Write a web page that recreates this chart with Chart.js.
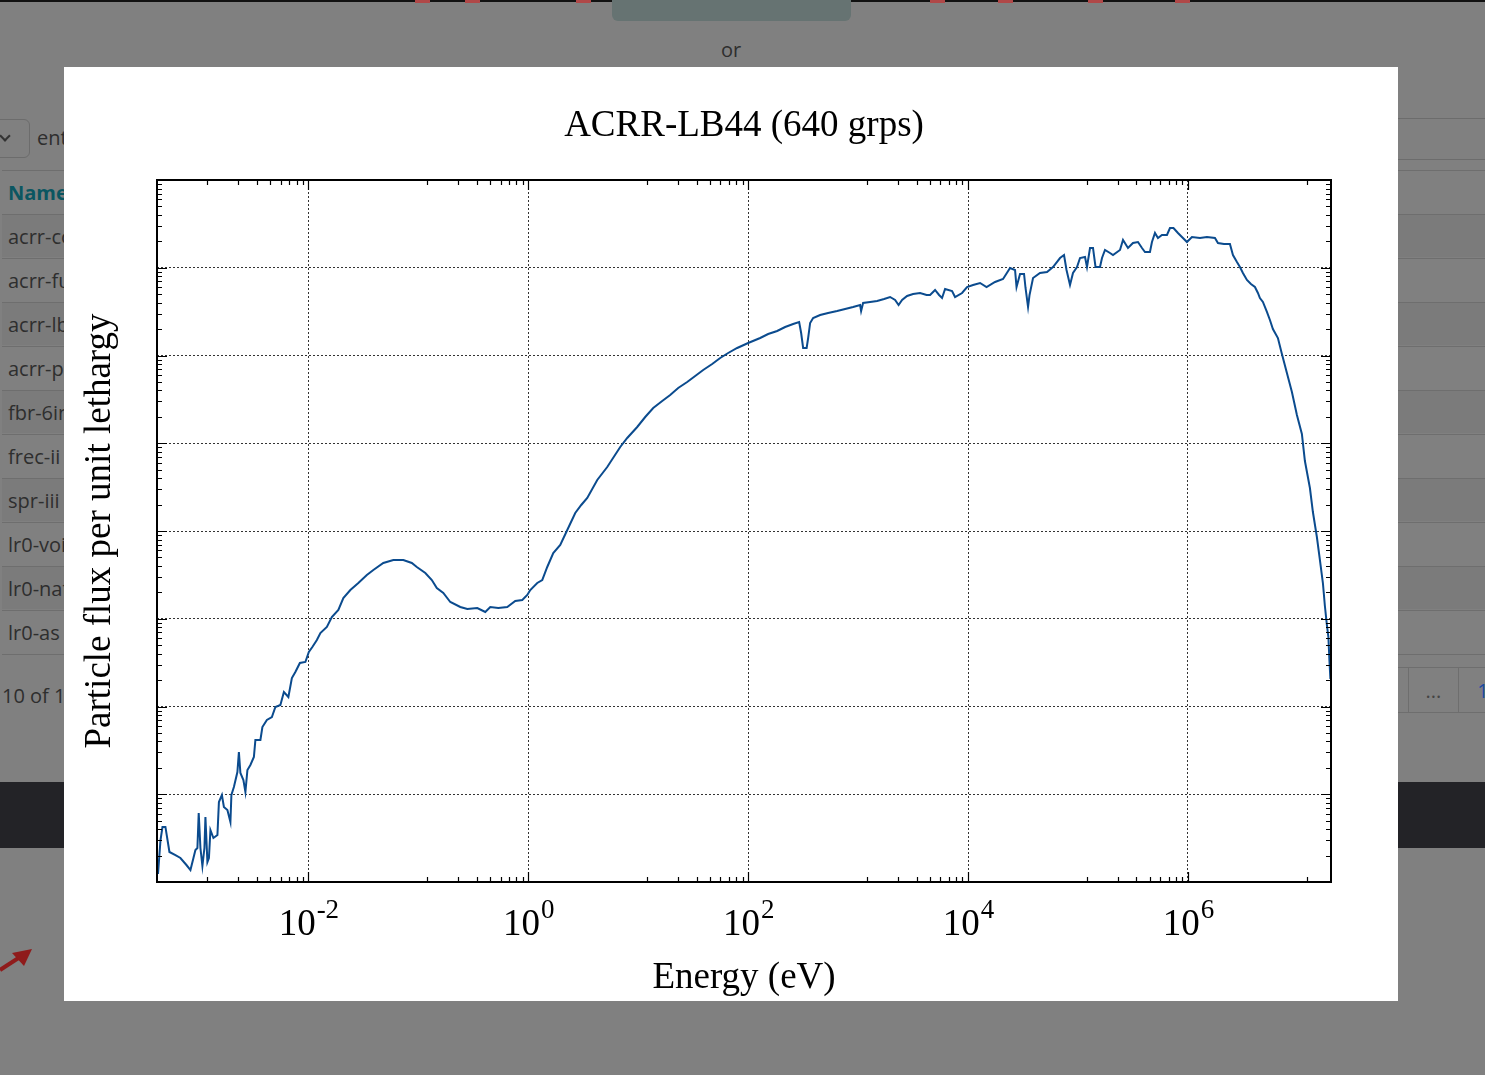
<!DOCTYPE html>
<html>
<head>
<meta charset="utf-8">
<title>ACRR-LB44 (640 grps)</title>
<script src="https://cdn.jsdelivr.net/npm/chart.js@4.4.1/dist/chart.umd.min.js"></script>
<style>
  html, body { margin: 0; padding: 0; }
  body { width: 1485px; height: 1075px; position: relative; overflow: hidden; background: #808080; font-family: "Open Sans", sans-serif; color: #2e2e2e; }
  .abs { position: absolute; }
  .topbar { left: 0; top: 0; width: 1485px; height: 2px; background: #111; }
  .red { top: 0; height: 3px; width: 15px; background: #b04848; }
  .btn { left: 612px; top: -6px; width: 239px; height: 27px; background: #667372; border-radius: 6px; }
  .or { left: 721px; top: 36px; font-size: 20px; }
  .sel { left: -14px; top: 119px; width: 42px; height: 37px; border: 1px solid #6c6c6c; border-radius: 6px; }
  .chev { left: 1px; top: 132px; width: 6px; height: 6px; border-right: 2px solid #333; border-bottom: 2px solid #333; transform: rotate(45deg); }
  .ent { left: 37px; top: 124px; font-size: 20px; }
  .search { left: 1300px; top: 118px; width: 200px; height: 40px; border: 1px solid #6c6c6c; border-radius: 4px; }
  .row { left: 2px; width: 1483px; height: 43px; border-top: 1px solid #6e6e6e; font-size: 20px; line-height: 43px; padding-left: 6px; box-sizing: border-box; }
  .row.dark { background: rgba(0,0,0,0.04); }
  .head { color: #0b5661; font-weight: bold; }
  .count { left: 2px; top: 682px; font-size: 20px; }
  .pg { top: 667px; height: 46px; border: 1px solid #6e6e6e; font-size: 20px; line-height: 46px; text-align: center; box-sizing: border-box; }
  .band { left: 0; top: 782px; width: 1485px; height: 66px; background: #232327; }
  .modal { left: 64px; top: 67px; width: 1334px; height: 934px; background: #fff; }
</style>
</head>
<body>
<div class="abs topbar"></div>
<div class="abs red" style="left:415px"></div>
<div class="abs red" style="left:465px"></div>
<div class="abs red" style="left:576px"></div>
<div class="abs red" style="left:768px"></div>
<div class="abs red" style="left:930px"></div>
<div class="abs red" style="left:998px"></div>
<div class="abs red" style="left:1088px"></div>
<div class="abs red" style="left:1175px"></div>
<div class="abs btn"></div>
<div class="abs or">or</div>
<div class="abs sel"></div>
<div class="abs chev"></div>
<div class="abs ent">entries</div>
<div class="abs search"></div>
<div class="abs row head" style="top:170px">Name</div>
<div class="abs row dark" style="top:214px">acrr-core</div>
<div class="abs row" style="top:258px">acrr-fuel</div>
<div class="abs row dark" style="top:302px">acrr-lb44</div>
<div class="abs row" style="top:346px">acrr-pool</div>
<div class="abs row dark" style="top:390px">fbr-6in</div>
<div class="abs row" style="top:434px">frec-ii</div>
<div class="abs row dark" style="top:478px">spr-iii</div>
<div class="abs row" style="top:522px">lr0-void</div>
<div class="abs row dark" style="top:566px">lr0-nat</div>
<div class="abs row" style="top:610px">lr0-as</div>
<div class="abs row" style="top:654px;height:1px"></div>
<div class="abs count">10 of 18</div>
<div class="abs pg" style="left:1360px;width:49px"></div>
<div class="abs pg" style="left:1408px;width:51px;color:#444">...</div>
<div class="abs pg" style="left:1458px;width:50px;color:#1a4aa0">1</div>
<div class="abs band"></div>
<svg class="abs" style="left:0;top:944px" width="36" height="32">
  <line x1="0" y1="26" x2="20" y2="13" stroke="#8f1b1b" stroke-width="4"/>
  <polygon points="32,5 12,9 24,22" fill="#8f1b1b"/>
</svg>
<div class="abs modal">
  <canvas id="chart" width="1334" height="934"></canvas>
</div>
<script>
// group energies (eV) and flux per unit lethargy
var energies = [
  4.29e-4, 4.52e-4, 4.71e-4, 5.01e-4, 5.45e-4, 6.18e-4, 6.86e-4, 7.78e-4, 8.46e-4, 9.01e-4,
  9.39e-4, 9.79e-4, 1.006e-3, 1.043e-3, 1.087e-3, 1.134e-3, 1.158e-3, 1.207e-3, 1.246e-3, 1.286e-3,
  1.369e-3, 1.489e-3, 1.536e-3, 1.635e-3, 1.705e-3, 1.835e-3, 1.954e-3, 1.995e-3, 2.102e-3, 2.262e-3,
  2.334e-3, 2.409e-3, 2.565e-3, 2.675e-3, 2.790e-3, 2.970e-3, 3.195e-3, 3.297e-3, 3.662e-3, 3.818e-3,
  4.194e-3, 4.658e-3, 5.012e-3, 5.566e-3, 5.989e-3, 6.579e-3, 7.079e-3, 7.616e-3, 8.369e-3, 9.39e-3,
  1.010e-2, 1.087e-2, 1.195e-2, 1.286e-2, 1.473e-2, 1.635e-2, 1.874e-2, 2.080e-2, 2.409e-2, 2.848e-2,
  3.402e-2, 3.899e-2, 4.805e-2, 5.925e-2, 7.305e-2, 8.728e-2, 9.69e-2, 0.1158, 0.1327, 0.1473,
  0.1688, 0.1954, 0.2409, 0.2790, 0.3439, 0.4065, 0.4514, 0.5337, 0.6442, 0.7616,
  0.8820, 0.9793, 1.043, 1.207, 1.340, 1.488, 1.688, 1.954, 2.263, 2.675,
  3.033, 3.439, 4.240, 5.226, 6.862, 7.943, 9.793, 11.58, 13.69, 16.53,
  19.54, 23.10, 27.89, 32.98, 38.99, 47.07, 55.66, 65.79, 79.43, 100,
  128.6, 152.0, 183.5, 216.9, 256.6, 290.9, 303.3, 316.2, 340.3, 351.3,
  366.1, 389.8, 451.3, 533.7, 644.2, 761.6, 900.6, 1043, 1065, 1110,
  1286, 1488, 1724, 1954, 2170, 2334, 2512, 2789, 3162, 3661,
  4195, 4513, 5012, 5450, 5802, 6179, 7155, 7616, 8820, 9793,
  11104, 12860, 14730, 17600, 20810, 24090, 26750, 27600, 29700, 32300,
  33320, 35120, 36240, 38990, 45120, 52260, 59250, 68620, 74610, 78620,
  84580, 90040, 97930, 1.043e5, 1.158e5, 1.207e5, 1.286e5, 1.369e5, 1.443e5, 1.585e5,
  1.653e5, 1.760e5, 1.954e5, 2.081e5, 2.409e5, 2.566e5, 2.848e5, 3.162e5, 3.512e5, 3.818e5,
  4.066e5, 4.512e5, 4.706e5, 5.012e5, 5.337e5, 5.802e5, 6.443e5, 6.862e5, 7.384e5, 8.111e5,
  9.005e5, 9.793e5, 1.087e6, 1.286e6, 1.488e6, 1.760e6, 1.874e6, 2.125e6, 2.409e6, 2.566e6,
  2.789e6, 2.970e6, 3.162e6, 3.439e6, 3.739e6, 4.066e6, 4.329e6, 4.513e6, 4.806e6, 5.226e6,
  5.566e6, 5.925e6, 6.579e6, 7.155e6, 7.943e6, 8.820e6, 9.793e6, 1.087e7, 1.158e7, 1.286e7,
  1.369e7, 1.488e7, 1.585e7, 1.688e7, 1.760e7, 1.835e7, 1.894e7, 1.934e7, 1.975e7
];

var flux = [
  1.234, 3.01, 4.235, 4.24, 2.197, 2.03, 1.877, 1.562, 1.370, 1.877,
  2.316, 2.441, 6.113, 2.44, 1.522, 2.44, 5.505, 1.690, 1.877, 3.913,
  3.173, 3.432, 8.16, 9.80, 7.155, 6.615, 4.828, 9.80, 12.09, 17.93,
  30.30, 17.47, 14.54, 10.61, 18.90, 21.54, 26.58, 41.51, 41.5, 58.4,
  70.2, 75.9, 98.7, 104.0, 146.3, 128.3, 211.3, 247.3, 313.2, 321.6,
  417.9, 476.5, 572.6, 688.0, 805.4, 1047, 1258, 1724, 2126, 2555,
  3152, 3594, 4319, 4673, 4673, 4319, 3888, 3322, 2764, 2240,
  1965, 1552, 1361, 1292, 1326, 1194, 1361, 1326, 1361, 1594,
  1636, 1865, 2126, 2555, 2764, 3888, 5615, 6927, 10265, 16040,
  19785, 23780, 38130, 53610, 90640, 1.148e5, 1.532e5, 1.991e5, 2.522e5, 3.030e5,
  3.547e5, 4.262e5, 4.989e5, 5.842e5, 6.835e5, 8.0e5, 9.366e5, 1.068e6, 1.218e6, 1.388e6,
  1.583e6, 1.758e6, 1.902e6, 2.113e6, 2.286e6, 2.409e6, 1.805e6, 1.218e6, 1.218e6, 1.583e6,
  2.347e6, 2.675e6, 2.894e6, 3.050e6, 3.215e6, 3.388e6, 3.570e6, 3.763e6, 3.215e6, 3.965e6,
  4.071e6, 4.179e6, 4.404e6, 4.642e6, 4.290e6, 3.763e6, 4.290e6, 4.765e6, 5.022e6, 5.156e6,
  4.892e6, 4.892e6, 5.578e6, 4.892e6, 4.521e6, 5.726e6, 5.433e6, 4.642e6, 5.156e6, 6.034e6,
  6.359e6, 6.702e6, 6.034e6, 6.880e6, 7.443e6, 9.934e6, 9.428e6, 6.034e6, 8.489e6, 8.489e6,
  5.878e6, 3.570e6, 4.892e6, 7.641e6, 8.714e6, 8.945e6, 1.020e7, 1.291e7, 1.397e7, 9.428e6,
  6.359e6, 8.714e6, 1.020e7, 1.291e7, 1.326e7, 1.020e7, 1.680e7, 1.680e7, 1.020e7, 1.020e7,
  1.291e7, 1.594e7, 1.473e7, 1.397e7, 1.594e7, 2.071e7, 1.680e7, 1.914e7, 1.965e7, 1.680e7,
  1.512e7, 1.512e7, 1.965e7, 2.489e7, 2.183e7, 2.362e7, 2.362e7, 2.838e7, 2.838e7, 2.489e7,
  2.183e7, 1.965e7, 2.240e7, 2.183e7, 2.240e7, 2.183e7, 1.914e7, 1.865e7, 1.865e7, 1.397e7,
  1.163e7, 1.020e7, 8.714e6, 7.250e6, 6.528e6, 6.034e6, 5.156e6, 4.521e6, 4.071e6, 3.132e6,
  2.539e6, 2.005e6, 1.583e6, 1.040e6, 6.318e5, 3.837e5, 2.098e5, 1.275e5, 62760, 30900,
  16460, 8544, 4673, 2555, 1398, 848.8, 619.4, 338.8, 205.8
];

// labelled decades on the energy axis: 10^exp
var xTickBase = '10';
var xTickExps = [-2, 0, 2, 4, 6];
var xTickLabels = ['-2', '0', '2', '4', '6'];

var serif = '"Liberation Serif", "Times New Roman", serif';
var lineColour = '#0b4b8e';
var gridColour = 'rgba(0,0,0,0.8)';

// minor ticks split every two-decade span into 9 equal linear parts
function energyTicks(scale) {
  var ticks = [];
  for (var p = -4; p <= 6; p += 2) {
    var lo = Math.pow(10, p), hi = Math.pow(10, p + 2);
    for (var m = 0; m < 9; m++) {
      var v = lo + m * (hi - lo) / 9;
      if (v >= scale.min && v <= scale.max) ticks.push({ value: v, major: m === 0 });
    }
  }
  scale.ticks = ticks;
}

function fluxTicks(scale) {
  var ticks = [];
  for (var p = 0; p < 8; p++) {
    for (var k = 1; k < 10; k++) ticks.push({ value: k * Math.pow(10, p), major: k === 1 });
  }
  ticks.push({ value: 1e8, major: true });
  scale.ticks = ticks;
}

function gridColourFor(c) {
  return c.tick && c.tick.major ? gridColour : 'rgba(0,0,0,0)';
}

// frame, inward tick marks on all four sides, superscript tick labels, axis titles
var axisDecor = {
  id: 'axisDecor',
  afterDraw: function(chart) {
    var ctx = chart.ctx, a = chart.chartArea;
    var xs = chart.scales.x, ys = chart.scales.y;
    ctx.save();
    ctx.strokeStyle = '#000';
    ctx.lineWidth = 1.2;
    ctx.beginPath();
    xs.ticks.forEach(function(t) {
      var px = Math.round(xs.getPixelForValue(t.value)) + 0.5;
      var len = t.major ? 10 : 5;
      ctx.moveTo(px, a.bottom); ctx.lineTo(px, a.bottom - len);
      ctx.moveTo(px, a.top); ctx.lineTo(px, a.top + len);
    });
    ys.ticks.forEach(function(t) {
      var py = Math.round(ys.getPixelForValue(t.value)) + 0.5;
      var len = t.major ? 10 : 5;
      ctx.moveTo(a.left, py); ctx.lineTo(a.left + len, py);
      ctx.moveTo(a.right, py); ctx.lineTo(a.right - len, py);
    });
    ctx.stroke();

    ctx.lineWidth = 2;
    ctx.strokeRect(a.left, a.top, a.right - a.left, a.bottom - a.top);

    ctx.fillStyle = '#000';
    ctx.textBaseline = 'alphabetic';
    ctx.textAlign = 'left';
    xTickExps.forEach(function(e, i) {
      var px = xs.getPixelForValue(Math.pow(10, e));
      ctx.font = '37px ' + serif;
      var wb = ctx.measureText(xTickBase).width;
      ctx.font = '27px ' + serif;
      var we = ctx.measureText(xTickLabels[i]).width;
      var x0 = px - (wb + we) / 2;
      ctx.font = '37px ' + serif;
      ctx.fillText(xTickBase, x0, 868);
      ctx.font = '27px ' + serif;
      ctx.fillText(xTickLabels[i], x0 + wb + 1, 851);
    });

    ctx.font = '37px ' + serif;
    ctx.textAlign = 'center';
    ctx.fillText('Energy (eV)', (a.left + a.right) / 2, 921);

    ctx.translate(46, (a.top + a.bottom) / 2);
    ctx.rotate(-Math.PI / 2);
    ctx.fillText('Particle flux per unit lethargy', 0, 0);
    ctx.restore();
  }
};

new Chart(document.getElementById('chart'), {
  type: 'line',
  data: {
    datasets: [{
      data: energies.map(function(e, i) { return { x: e, y: flux[i] }; }),
      borderColor: lineColour,
      borderWidth: 2,
      pointRadius: 0,
      fill: false,
      tension: 0
    }]
  },
  options: {
    responsive: false,
    animation: false,
    devicePixelRatio: 1,
    events: [],
    layout: { padding: { left: 93, right: 67, top: 0, bottom: 119 } },
    plugins: {
      legend: { display: false },
      tooltip: { enabled: false },
      title: {
        display: true,
        text: 'ACRR-LB44 (640 grps)',
        color: '#000',
        font: { family: serif, size: 37, weight: 'normal' },
        padding: { top: 37.3, bottom: 31.3 }
      }
    },
    scales: {
      x: {
        type: 'logarithmic',
        min: 4.2e-4,
        max: 2e7,
        afterBuildTicks: energyTicks,
        afterFit: function(s) { s.height = 0; },
        ticks: { display: false },
        grid: { drawTicks: false, color: gridColourFor, lineWidth: 1 },
        border: { display: false, dash: [2, 2] }
      },
      y: {
        type: 'logarithmic',
        min: 1,
        max: 1e8,
        afterBuildTicks: fluxTicks,
        afterFit: function(s) { s.width = 0; },
        ticks: { display: false },
        grid: { drawTicks: false, color: gridColourFor, lineWidth: 1 },
        border: { display: false, dash: [2, 2] }
      }
    }
  },
  plugins: [axisDecor]
});
</script>
</body>
</html>
